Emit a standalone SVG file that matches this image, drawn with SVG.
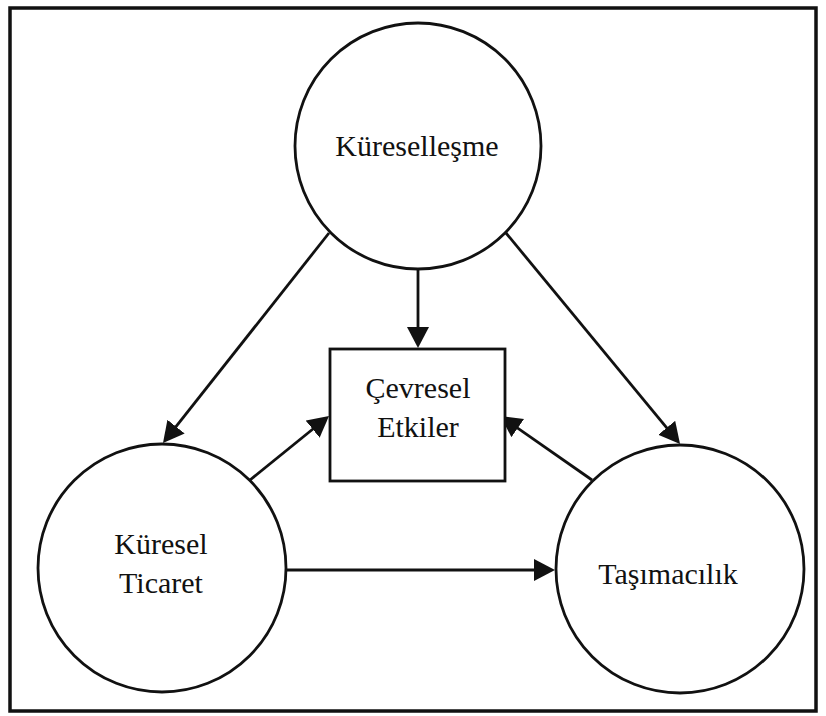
<svg xmlns="http://www.w3.org/2000/svg" width="826" height="716" viewBox="0 0 826 716">
  <style>
    .frame { fill: #ffffff; stroke: #111111; stroke-width: 3.5; }
    .node { fill: #ffffff; stroke: #111111; stroke-width: 2.8; }
    .link { fill: none; stroke: #111111; stroke-width: 2.8; marker-end: url(#arrow); }
    .label { font-family: "Liberation Serif", "Times New Roman", serif; font-size: 30px; fill: #111111; text-anchor: middle; }
  </style>
  <defs>
    <marker id="arrow" markerUnits="userSpaceOnUse" markerWidth="24" markerHeight="24" refX="17" refY="11" orient="auto">
      <path d="M0,0 L21,11 L0,22 Z" fill="#111111"/>
    </marker>
  </defs>

  <rect class="frame" x="10" y="8" width="806" height="703"/>

  <g id="connectors">
    <line class="link" x1="418" y1="269" x2="418" y2="344"/>
    <line class="link" x1="329" y1="233" x2="165.5" y2="439.9"/>
    <line class="link" x1="506" y1="233" x2="677.5" y2="440.9"/>
    <line class="link" x1="250" y1="480" x2="325.9" y2="418.5"/>
    <line class="link" x1="592" y1="480" x2="503.8" y2="418.4"/>
    <line class="link" x1="285" y1="570" x2="551" y2="570"/>
  </g>

  <g id="kuresellesme">
    <circle class="node" cx="418" cy="146" r="123"/>
    <text class="label" x="417" y="156">Küreselleşme</text>
  </g>

  <g id="cevresel-etkiler">
    <rect class="node" x="330" y="349" width="175" height="132"/>
    <text class="label" x="418" y="398">Çevresel</text>
    <text class="label" x="418" y="437">Etkiler</text>
  </g>

  <g id="kuresel-ticaret">
    <circle class="node" cx="162" cy="568" r="124"/>
    <text class="label" x="161" y="554">Küresel</text>
    <text class="label" x="161" y="593">Ticaret</text>
  </g>

  <g id="tasimacilik">
    <circle class="node" cx="680" cy="569" r="124"/>
    <text class="label" x="668" y="584">Taşımacılık</text>
  </g>
</svg>
